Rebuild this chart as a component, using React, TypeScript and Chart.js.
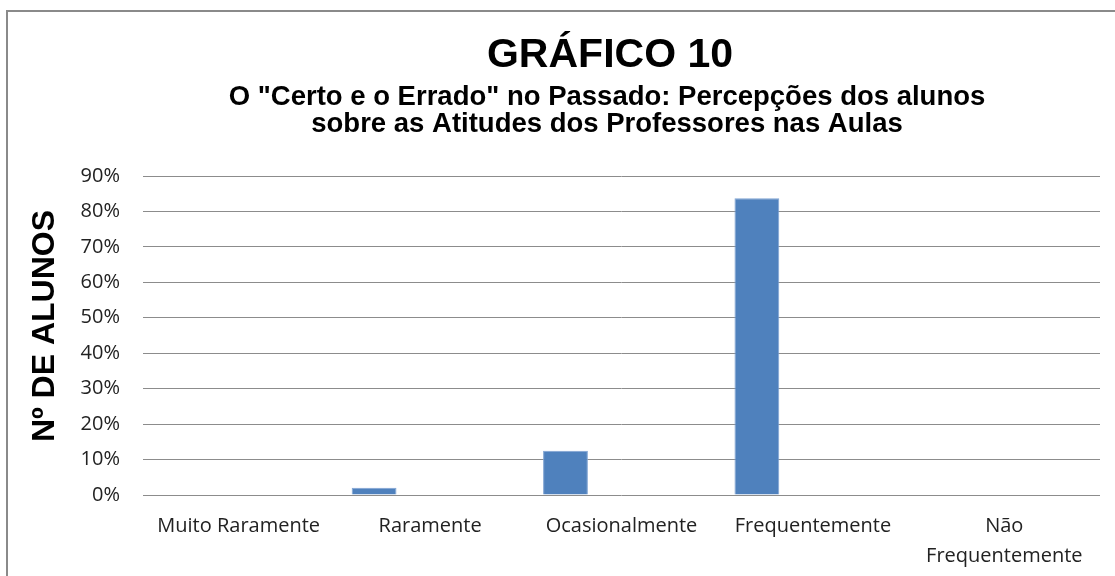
import React, { useEffect, useRef } from "react";
import { Chart, registerables } from "chart.js";

Chart.register(...registerables);

const categories: (string | string[])[] = [
  "Muito Raramente",
  "Raramente",
  "Ocasionalmente",
  "Frequentemente",
  ["Não", "Frequentemente"],
];
const series1: number[] = [0, 0.0206, 0.125, 0.837, 0];
const series2: number[] = [0, 0, 0, 0, 0];
const series3: number[] = [0, 0, 0, 0, 0];
const yTicks: number[] = [0, 0.1, 0.2, 0.3, 0.4, 0.5, 0.6, 0.7, 0.8, 0.9];

const titleText = "GRÁFICO 10";
const subtitleLines = [
  'O "Certo e o Errado" no Passado: Percepções dos alunos',
  "sobre as Atitudes dos Professores nas Aulas",
];
const yTitle = "Nº DE ALUNOS";

const FONT = "'Liberation Sans', Arial, sans-serif";

const titlesPlugin = {
  id: "customTitles",
  afterDraw(chart: any) {
    const ctx = chart.ctx as CanvasRenderingContext2D;
    ctx.save();
    ctx.fillStyle = "#000";
    ctx.textAlign = "center";
    ctx.textBaseline = "alphabetic";
    ctx.font = `bold 41px ${FONT}`;
    ctx.fillText(titleText, 610, 67);
    ctx.font = `bold 27.5px ${FONT}`;
    ctx.fillText(subtitleLines[0], 607, 105);
    ctx.fillText(subtitleLines[1], 607, 132);
    ctx.translate(45, 326);
    ctx.rotate(-Math.PI / 2);
    ctx.textBaseline = "middle";
    ctx.font = `bold 32px ${FONT}`;
    ctx.fillText(yTitle, 0, 0);
    ctx.restore();
  },
};

export default function App() {
  const ref = useRef<HTMLCanvasElement | null>(null);
  useEffect(() => {
    if (!ref.current) return;
    const chart = new Chart(ref.current, {
      type: "bar",
      data: {
        labels: categories,
        datasets: [
          { label: "Série 1", data: series1, backgroundColor: "#4F81BD", borderColor: "#7fa3d3", borderWidth: 1 },
          { label: "Série 2", data: series2, backgroundColor: "#C0504D" },
          { label: "Série 3", data: series3, backgroundColor: "#9BBB59" },
        ],
      },
      options: {
        responsive: false,
        animation: false,
        datasets: { bar: { categoryPercentage: 0.878, barPercentage: 0.8 } },
        layout: { padding: { left: 20, right: 15, top: 176, bottom: 5 } },
        plugins: {
          legend: { display: false },
          tooltip: { enabled: false },
          title: { display: false },
          subtitle: { display: false },
        },
        scales: {
          x: {
            afterFit: (scale: any) => {
              scale.height = 76;
            },
            grid: { display: false, drawTicks: false },
            border: { display: false },
            ticks: {
              color: "#222",
              padding: 16,
              maxRotation: 0,
              autoSkip: false,
              font: { family: "'Open Sans', sans-serif", size: 20, lineHeight: 1.5 },
            },
          },
          y: {
            min: 0,
            max: 0.9,
            afterBuildTicks: (scale: any) => {
              scale.ticks = yTicks.map((v) => ({ value: v }));
            },
            afterFit: (scale: any) => {
              scale.width = 123;
            },
            grid: { color: "#8c8c8c", lineWidth: 1, drawTicks: false },
            border: { display: false },
            ticks: {
              color: "#222",
              padding: 23,
              font: { family: "'Open Sans', sans-serif", size: 20 },
              callback: (v: any) => Math.round(Number(v) * 100) + "%",
            },
            title: { display: false },
          },
        },
      },
      plugins: [titlesPlugin],
    });
    return () => chart.destroy();
  }, []);

  return (
    <div style={{ position: "absolute", left: 0, top: 0, width: 1115, height: 576, overflow: "hidden", background: "#fff" }}>
      <div style={{ position: "absolute", left: 6, top: 10, width: 1200, height: 700, border: "2px solid #8a8a8a" }} />
      <canvas ref={ref} width={1115} height={576} style={{ position: "absolute", left: 0, top: 0 }} />
    </div>
  );
}
